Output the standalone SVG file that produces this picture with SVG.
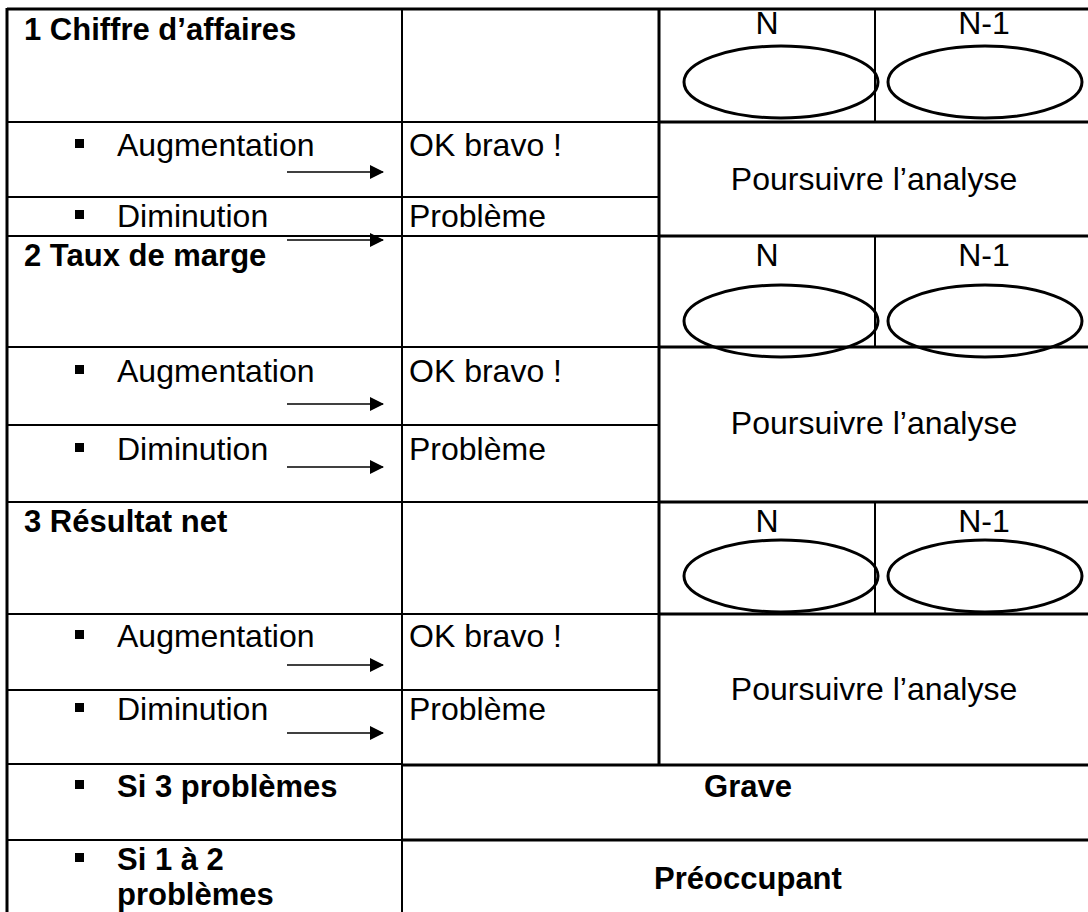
<svg xmlns="http://www.w3.org/2000/svg" width="1088" height="912" viewBox="0 0 1088 912">
<defs>
<style>
.t{font-family:"Liberation Sans",Arial,sans-serif;font-size:32px;fill:#000}
.b{font-weight:bold;font-size:31px}
.m{text-anchor:middle}
.thin{stroke:#000;stroke-width:2;fill:none}
.thick{stroke:#000;stroke-width:3;fill:none}
.ell{stroke:#000;stroke-width:3;fill:none}
.arr{stroke:#000;stroke-width:1.6;fill:none;marker-end:url(#ah)}
.bul{fill:#000}
</style>
<marker id="ah" viewBox="0 0 14 14" refX="13" refY="7" markerWidth="14" markerHeight="14" markerUnits="userSpaceOnUse" orient="auto">
<path d="M0,0 L14,7 L0,14 Z" fill="#000"/>
</marker>
</defs>
<rect width="1088" height="912" fill="#fff"/>
<g id="grid">
<line class="thick" x1="7" y1="9" x2="1093" y2="9"/>
<line class="thick" x1="7" y1="8" x2="7" y2="912"/>
<line class="thin" x1="402" y1="9" x2="402" y2="912"/>
<line class="thick" x1="659" y1="9" x2="659" y2="764"/>
<line class="thin" x1="875" y1="9" x2="875" y2="122"/>
<line class="thin" x1="875" y1="236" x2="875" y2="347"/>
<line class="thin" x1="875" y1="502" x2="875" y2="614"/>
<line class="thin" x1="7" y1="122" x2="659" y2="122"/>
<line class="thick" x1="659" y1="122" x2="1093" y2="122"/>
<line class="thin" x1="7" y1="197" x2="659" y2="197"/>
<line class="thin" x1="7" y1="236" x2="659" y2="236"/>
<line class="thick" x1="659" y1="236" x2="1093" y2="236"/>
<line class="thin" x1="7" y1="347" x2="659" y2="347"/>
<line class="thick" x1="659" y1="347" x2="1093" y2="347"/>
<line class="thin" x1="7" y1="425" x2="659" y2="425"/>
<line class="thin" x1="7" y1="502" x2="659" y2="502"/>
<line class="thick" x1="659" y1="502" x2="1093" y2="502"/>
<line class="thin" x1="7" y1="614" x2="659" y2="614"/>
<line class="thick" x1="659" y1="614" x2="1093" y2="614"/>
<line class="thin" x1="7" y1="690" x2="659" y2="690"/>
<line class="thin" x1="7" y1="764" x2="402" y2="764"/>
<line class="thick" x1="402" y1="765" x2="1093" y2="765"/>
<line class="thin" x1="7" y1="840" x2="402" y2="840"/>
<line class="thick" x1="402" y1="840" x2="1093" y2="840"/>
</g>
<g id="section1">
<text class="t b" x="24" y="40">1 Chiffre d’affaires</text>
<text class="t m" x="767" y="34">N</text>
<text class="t m" x="984" y="34">N-1</text>
<ellipse class="ell" cx="781" cy="82" rx="97" ry="36"/>
<ellipse class="ell" cx="985" cy="82" rx="97" ry="36"/>
<rect class="bul" x="75" y="139" width="9" height="9"/>
<text class="t" x="117" y="156">Augmentation</text>
<text class="t" x="409" y="156">OK bravo !</text>
<text class="t m" x="874" y="190">Poursuivre l’analyse</text>
<rect class="bul" x="75" y="210" width="9" height="9"/>
<text class="t" x="117" y="227">Diminution</text>
<text class="t" x="409" y="227">Problème</text>
</g>
<g id="section2">
<text class="t b" x="24" y="266">2 Taux de marge</text>
<text class="t m" x="767" y="266">N</text>
<text class="t m" x="984" y="266">N-1</text>
<ellipse class="ell" cx="781" cy="321" rx="97" ry="36"/>
<ellipse class="ell" cx="985" cy="321" rx="97" ry="36"/>
<rect class="bul" x="75" y="365" width="9" height="9"/>
<text class="t" x="117" y="382">Augmentation</text>
<text class="t" x="409" y="382">OK bravo !</text>
<text class="t m" x="874" y="434">Poursuivre l’analyse</text>
<rect class="bul" x="75" y="443" width="9" height="9"/>
<text class="t" x="117" y="460">Diminution</text>
<text class="t" x="409" y="460">Problème</text>
</g>
<g id="section3">
<text class="t b" x="24" y="532">3 Résultat net</text>
<text class="t m" x="767" y="532">N</text>
<text class="t m" x="984" y="532">N-1</text>
<ellipse class="ell" cx="781" cy="576" rx="97" ry="36"/>
<ellipse class="ell" cx="985" cy="576" rx="97" ry="36"/>
<rect class="bul" x="75" y="630" width="9" height="9"/>
<text class="t" x="117" y="647">Augmentation</text>
<text class="t" x="409" y="647">OK bravo !</text>
<text class="t m" x="874" y="700">Poursuivre l’analyse</text>
<rect class="bul" x="75" y="703" width="9" height="9"/>
<text class="t" x="117" y="720">Diminution</text>
<text class="t" x="409" y="720">Problème</text>
</g>
<g id="summary">
<rect class="bul" x="75" y="780" width="9" height="9"/>
<text class="t b" x="117" y="797">Si 3 problèmes</text>
<text class="t b m" x="748" y="797">Grave</text>
<rect class="bul" x="75" y="853" width="9" height="9"/>
<text class="t b" x="117" y="870">Si 1 à 2</text>
<text class="t b" x="117" y="905">problèmes</text>
<text class="t b m" x="748" y="889">Préoccupant</text>
</g>
<g id="connectors">
<line class="arr" x1="287" y1="172" x2="383" y2="172"/>
<line class="arr" x1="287" y1="240" x2="383" y2="240"/>
<line class="arr" x1="287" y1="404" x2="383" y2="404"/>
<line class="arr" x1="287" y1="467" x2="383" y2="467"/>
<line class="arr" x1="287" y1="665" x2="383" y2="665"/>
<line class="arr" x1="287" y1="733" x2="383" y2="733"/>
</g>
</svg>
